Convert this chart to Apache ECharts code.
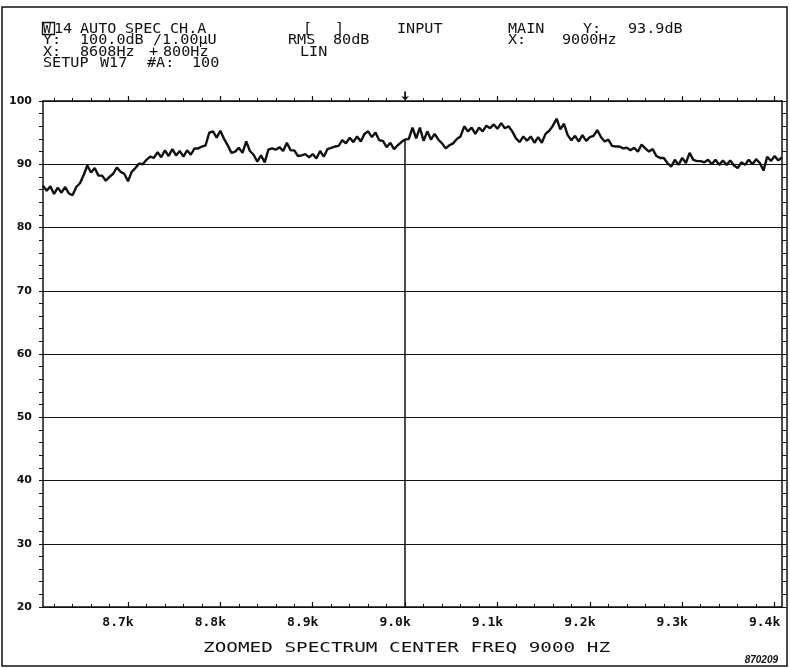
<!DOCTYPE html>
<html>
<head>
<meta charset="utf-8">
<script src="https://cdn.jsdelivr.net/npm/echarts@6/dist/echarts.min.js"></script>
<style>html,body{margin:0;padding:0;background:#fff}#c{width:790px;height:668px}</style>
</head>
<body>
<div id="c"></div>
<script>
// ---- data ----
const freqStart = 8608;   // Hz, first sample
const freqStep = 4;       // Hz between samples
const freqMin = 8608, freqMax = 9408;
const levelDb = [
86.6,85.8,86.5,85.3,86.3,85.5,86.4,85.4,85.1,86.4,
87.0,88.3,89.8,88.7,89.4,88.2,88.2,87.4,88.0,88.5,
89.5,88.8,88.5,87.3,88.8,89.4,90.1,90.0,90.7,91.2,
91.0,91.9,91.1,92.2,91.3,92.4,91.4,92.1,91.2,92.2,
91.5,92.5,92.5,92.8,93.0,95.0,95.2,94.2,95.3,94.0,
93.0,91.8,92.0,92.6,91.8,93.6,92.1,91.5,90.4,91.4,
90.3,92.3,92.5,92.3,92.7,92.1,93.4,92.2,92.2,91.3,
91.4,91.6,91.1,91.6,90.9,92.1,91.2,92.4,92.6,92.8,
92.9,93.8,93.3,94.2,93.5,94.4,93.6,94.8,95.2,94.3,
95.0,93.8,93.7,92.7,93.4,92.4,93.0,93.5,93.9,94.0,
95.8,94.1,95.8,93.7,95.2,93.9,94.8,93.9,93.3,92.5,
93.0,93.3,94.0,94.4,96.0,95.2,95.8,94.8,95.8,95.2,
96.1,95.7,96.3,95.6,96.5,95.7,96.0,95.2,94.1,93.5,
94.4,93.7,94.4,93.4,94.3,93.4,94.8,95.3,96.1,97.2,
95.5,96.4,94.6,93.8,94.5,93.6,94.6,93.7,94.3,94.5,
95.4,94.3,93.6,93.9,92.9,92.8,92.8,92.5,92.6,92.2,
92.6,92.0,93.1,92.5,92.0,92.4,91.3,91.0,91.0,90.2,
89.6,90.7,89.9,91.0,90.2,91.8,90.7,90.5,90.5,90.3,
90.7,90.0,90.7,89.9,90.6,89.9,90.6,89.8,89.4,90.3,
89.9,90.7,90.0,90.8,90.2,89.0,91.2,90.5,91.3,90.6,
91.1
];
const cursorFreq = 9000;
const cursorDb = 93.9;
const xMajorTicks = [8700,8800,8900,9000,9100,9200,9300,9400];
const xTickLabels = ['8.7k','8.8k','8.9k','9.0k','9.1k','9.2k','9.3k','9.4k'];
const xMinorTicks = [8620,8640,8660,8680,8720,8740,8760,8780,8820,8840,8860,8880,
  8920,8940,8960,8980,9020,9040,9060,9080,9120,9140,9160,9180,9220,9240,9260,9280,
  9320,9340,9360,9380,9400];
const yMin = 20, yMax = 100, yStep = 10;

// ---- chart ----
const chart = echarts.init(document.getElementById('c'), null, {renderer:'canvas'});
const seriesData = levelDb.map((v,i)=>[freqStart + i*freqStep, v]);
const black = '#111';
const mono = 'DejaVu Sans Mono';
function hdr(x, y, text, sx){
  return {type:'text', x:x, y:y, scaleX: sx || 1.08, silent:true,
    style:{text:text, font:'14px "' + mono + '"', fill:black, verticalAlign:'middle', align:'left'}};
}
const baseX = {type:'value', min:freqMin, max:freqMax, splitLine:{show:false}};
chart.setOption({
  backgroundColor:'#fff',
  animation:false,
  grid:{left:43, right:8, top:101, bottom:61, containLabel:false},
  xAxis:[
    Object.assign({}, baseX, {position:'bottom',
      axisLine:{show:true, lineStyle:{color:black, width:1.5}},
      axisTick:{show:true, inside:true, length:5, customValues:xMajorTicks, lineStyle:{color:black, width:1.2}},
      axisLabel:{show:true, customValues:xMajorTicks, margin:9, padding:[0,20,0,0],
        formatter:(v)=>{const k=xMajorTicks.indexOf(Math.round(v)); return k>=0?xTickLabels[k]:'';},
        fontFamily:mono, fontWeight:'bold', fontSize:13, color:black}}),
    Object.assign({}, baseX, {position:'bottom',
      axisLine:{show:false},
      axisTick:{show:true, inside:true, length:3, customValues:xMinorTicks, lineStyle:{color:black, width:1}},
      axisLabel:{show:false}}),
    Object.assign({}, baseX, {position:'top',
      axisLine:{show:true, lineStyle:{color:black, width:1.5}},
      axisTick:{show:true, inside:false, length:5, customValues:xMajorTicks, lineStyle:{color:black, width:1.2}},
      axisLabel:{show:false}}),
    Object.assign({}, baseX, {position:'top',
      axisLine:{show:false},
      axisTick:{show:true, inside:false, length:3, customValues:xMinorTicks, lineStyle:{color:black, width:1}},
      axisLabel:{show:false}})
  ],
  yAxis:[
    {type:'value', position:'left', min:yMin, max:yMax, interval:yStep,
      axisLine:{show:true, lineStyle:{color:black, width:1.5}},
      axisTick:{show:true, inside:false, length:4, lineStyle:{color:black}},
      minorTick:{show:true, splitNumber:5, length:4, lineStyle:{color:black}},
      splitLine:{show:true, lineStyle:{color:black, width:1.2}},
      axisLabel:{margin:11, fontFamily:'DejaVu Sans', fontWeight:'bold', fontSize:11, color:black}},
    {type:'value', position:'right', min:yMin, max:yMax, interval:yStep,
      axisLine:{show:true, lineStyle:{color:black, width:1.5}},
      axisTick:{show:true, inside:false, length:4, lineStyle:{color:black}},
      minorTick:{show:true, splitNumber:5, length:4, lineStyle:{color:black}},
      splitLine:{show:false}, axisLabel:{show:false}}
  ],
  series:[{
    type:'line', xAxisIndex:0, yAxisIndex:0, data:seriesData,
    showSymbol:false, symbol:'none', silent:true,
    lineStyle:{color:black, width:2.4}, z:5,
    markLine:{silent:true, symbol:'none', label:{show:false},
      lineStyle:{color:black, width:1.5, type:'solid'},
      data:[[{coord:[cursorFreq, yMin]},{coord:[cursorFreq, cursorDb]}]]},
    markPoint:{silent:true, label:{show:false},
      symbol:'path://M-0.7,0 L0.7,0 L0.7,6 L3.2,5 L0,10 L-3.2,5 L-0.7,6 Z',
      symbolSize:[8,9], symbolKeepAspect:false,
      itemStyle:{color:black},
      data:[{coord:[cursorFreq, yMax], symbolOffset:[0,-5]}]}
  }],
  graphic:[
    {type:'rect', shape:{x:2, y:7, width:785, height:659}, silent:true,
      style:{fill:'none', stroke:black, lineWidth:1.5}},
    {type:'rect', shape:{x:42.5, y:22.5, width:12, height:12}, silent:true,
      style:{fill:'none', stroke:black, lineWidth:1.3}},
    hdr(43, 29, 'W', 0.95),
    hdr(54, 29, '14'),
    hdr(80, 29, 'AUTO'),
    hdr(125, 29, 'SPEC'),
    hdr(170, 29, 'CH.A'),
    hdr(303, 29, '['),
    hdr(335, 29, ']'),
    hdr(397, 29, 'INPUT'),
    hdr(508, 29, 'MAIN'),
    hdr(583, 29, 'Y:'),
    hdr(628, 29, '93.9dB'),
    hdr(43, 40.5, 'Y:'),
    hdr(80, 40.5, '100.0dB'),
    hdr(153, 40.5, '/1.00µU'),
    hdr(288, 40.5, 'RMS'),
    hdr(333, 40.5, '80dB'),
    hdr(508, 40.5, 'X:'),
    hdr(562, 40.5, '9000Hz'),
    hdr(43, 52, 'X:'),
    hdr(80, 52, '8608Hz'),
    hdr(149, 52, '+'),
    hdr(163, 52, '800Hz'),
    hdr(300, 52, 'LIN'),
    hdr(43, 63.5, 'SETUP'),
    hdr(100, 63.5, 'W17'),
    hdr(147, 63.5, '#A:'),
    hdr(192, 63.5, '100'),
    {type:'text', x:203, y:648, scaleX:1.38, silent:true,
      style:{text:'ZOOMED SPECTRUM CENTER FREQ 9000 HZ', font:'14px "' + mono + '"', fill:black, verticalAlign:'middle'}},
    {type:'text', x:778, y:660, silent:true,
      style:{text:'870209', font:'italic bold 10px "Liberation Sans"', fill:black, verticalAlign:'middle', align:'right'}}
  ]
});
</script>
</body>
</html>
